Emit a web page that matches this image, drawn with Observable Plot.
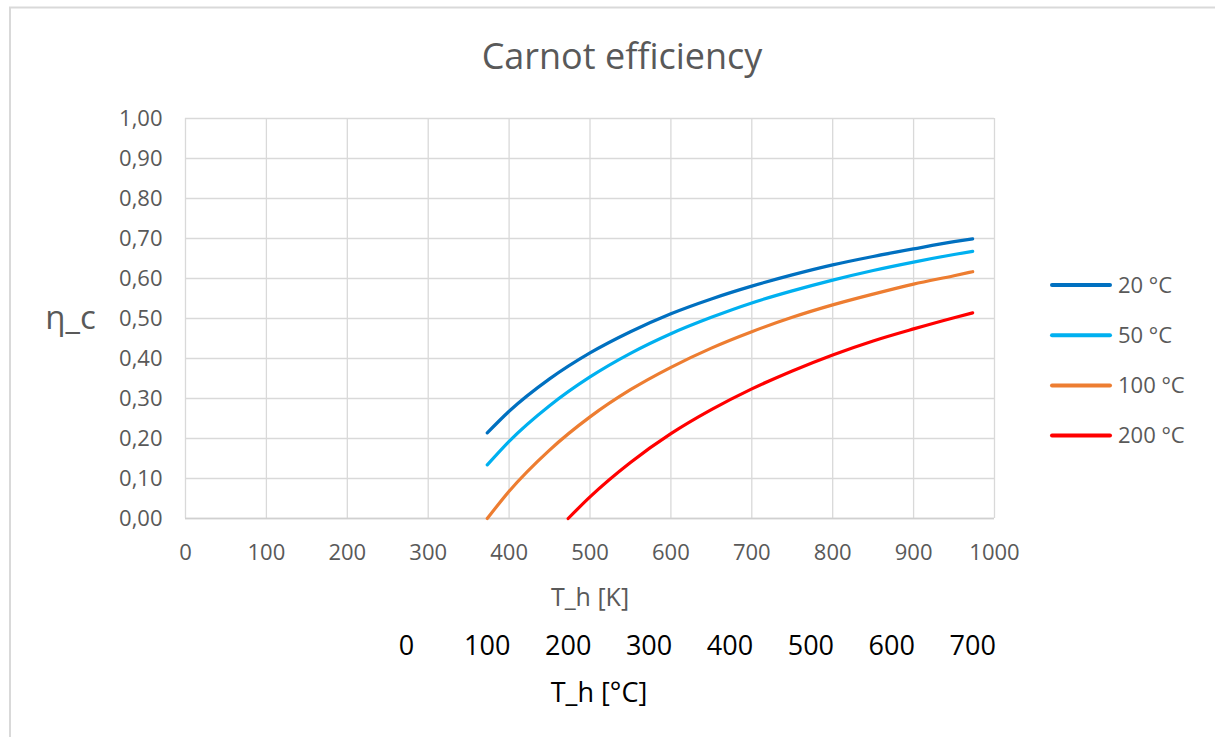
<!DOCTYPE html>
<html>
<head>
<meta charset="utf-8">
<script src="https://cdn.jsdelivr.net/npm/d3@7"></script>
<script src="https://cdn.jsdelivr.net/npm/@observablehq/plot@0.6"></script>
<style>
  html, body { margin: 0; padding: 0; background: white; }
</style>
</head>
<body>
<div id="chart"></div>
<script>
// ---- data ----
const seriesLabels = ["20 °C", "50 °C", "100 °C", "200 °C"];
const seriesColors = ["#0070c0", "#00b0f0", "#ed7d31", "#ff0000"];

const tempsK = [373, 400, 450, 500, 550, 600, 650, 700, 750, 800, 850, 900, 950, 973];
const eta20  = [0.214, 0.268, 0.349, 0.414, 0.467, 0.512, 0.549, 0.581, 0.609, 0.634, 0.655, 0.674, 0.692, 0.699];
const eta50  = [0.134, 0.193, 0.282, 0.354, 0.413, 0.462, 0.503, 0.539, 0.569, 0.596, 0.620, 0.641, 0.660, 0.668];
const eta100 = [0.000, 0.068, 0.171, 0.254, 0.322, 0.378, 0.426, 0.467, 0.503, 0.534, 0.561, 0.586, 0.607, 0.617];
const tempsK200 = [473, 500, 550, 600, 650, 700, 750, 800, 850, 900, 950, 973];
const eta200 = [0.000, 0.054, 0.140, 0.212, 0.272, 0.324, 0.369, 0.409, 0.444, 0.474, 0.502, 0.514];

const xTicks = [0, 100, 200, 300, 400, 500, 600, 700, 800, 900, 1000];
const yTicks = [0, 0.1, 0.2, 0.3, 0.4, 0.5, 0.6, 0.7, 0.8, 0.9, 1.0];
const celsiusTicks = [0, 100, 200, 300, 400, 500, 600, 700];

const titleText = "Carnot efficiency";
const yLabel = "η_c";
const xLabelK = "T_h [K]";
const xLabelC = "T_h [°C]";

// ---- build rows ----
const rows = [];
const seriesData = [[tempsK, eta20], [tempsK, eta50], [tempsK, eta100], [tempsK200, eta200]];
seriesData.forEach(([ts, es], i) => {
  ts.forEach((t, j) => rows.push({series: seriesLabels[i], T: t, eta: es[j]}));
});

const grey = "#595959";
const font = "Open Sans";

const chart = Plot.plot({
  width: 1215,
  height: 737,
  marginLeft: 185,
  marginRight: 221,
  marginTop: 118,
  marginBottom: 219,
  style: {fontFamily: font, background: "white", overflow: "visible"},
  x: {domain: [0, 1000]},
  y: {domain: [0, 1]},
  color: {domain: seriesLabels, range: seriesColors},
  marks: [
    Plot.gridX(xTicks, {stroke: "#d9d9d9", strokeOpacity: 1, strokeWidth: 1.3}),
    Plot.gridY(yTicks, {stroke: "#d9d9d9", strokeOpacity: 1, strokeWidth: 1.3}),
    Plot.ruleY([0], {stroke: "#d0d0d0", strokeWidth: 1.6}),
    Plot.axisX(xTicks, {tickSize: 0, tickPadding: 26, fontSize: 22, fill: grey, label: null, tickFormat: d => String(d)}),
    Plot.axisY(yTicks, {tickSize: 0, tickPadding: 23, fontSize: 22, fill: grey, label: null,
      tickFormat: d => d.toFixed(2).replace(".", ",")}),
    Plot.line(rows, {x: "T", y: "eta", z: "series", stroke: "series", strokeWidth: 3.2, curve: "monotone-x"}),
    Plot.text([titleText], {frameAnchor: "top", lineAnchor: "middle", dx: 32, dy: -61, fontSize: 36, fill: grey}),
    Plot.text([yLabel], {frameAnchor: "left", textAnchor: "middle", lineAnchor: "middle", dx: -115, dy: 0, fontSize: 33, fill: grey}),
    Plot.text([xLabelK], {x: () => 500, frameAnchor: "bottom", lineAnchor: "middle", dy: 79, fontSize: 25, fill: grey}),
    Plot.text(celsiusTicks, {x: d => d + 273, frameAnchor: "bottom", lineAnchor: "middle", dy: 128, fontSize: 27, fill: "black", text: d => String(d)}),
    Plot.text([xLabelC], {x: () => 500, frameAnchor: "bottom", lineAnchor: "middle", dx: 9, dy: 175, fontSize: 27, fill: "black"})
  ]
});

document.getElementById("chart").appendChild(chart);

// ---- legend & outer border ----
const svg = d3.select(chart);
const lg = svg.append("g").attr("font-family", font).attr("text-anchor", "start");
seriesLabels.forEach((lab, i) => {
  const y = 285 + 50.2 * i;
  lg.append("line").attr("x1", 1052).attr("x2", 1110).attr("y1", y).attr("y2", y)
    .attr("stroke", seriesColors[i]).attr("stroke-width", 4).attr("stroke-linecap", "round");
  lg.append("text").attr("x", 1118).attr("y", y).attr("dy", "0.35em")
    .attr("font-size", 22).attr("fill", grey).text(lab);
});
svg.append("path").attr("d", "M10,737 L10,7.5 L1215,7.5")
  .attr("fill", "none").attr("stroke", "#d9d9d9").attr("stroke-width", 2);
</script>
</body>
</html>
